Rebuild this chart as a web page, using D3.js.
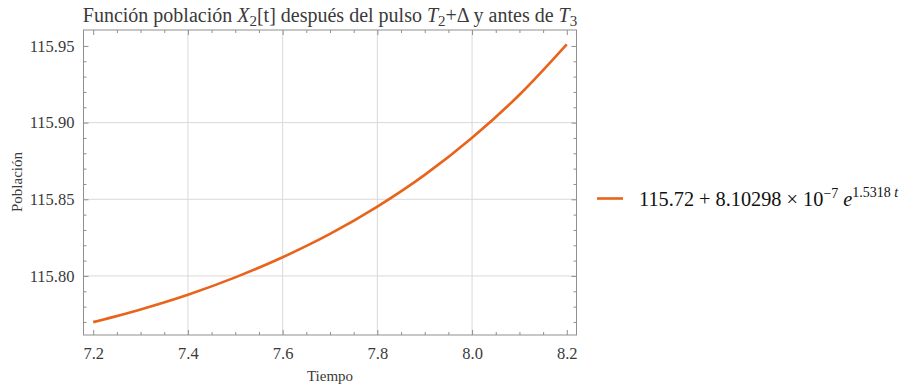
<!DOCTYPE html>
<html><head><meta charset="utf-8">
<script src="https://cdn.jsdelivr.net/npm/d3@7"></script>
<style>
body{margin:0;background:#fff;}
svg{display:block;font-family:"Liberation Serif","Times New Roman",serif;}
</style></head>
<body>
<svg id="chart" width="902" height="386"></svg>
<script>
// Data
const tiempo = [7.2, 7.3, 7.4, 7.5, 7.6, 7.7, 7.8, 7.9, 8.0, 8.1, 8.2];
const poblacion = [115.7699, 115.7782, 115.7878, 115.7991, 115.8122, 115.8274, 115.8452, 115.8659, 115.8901, 115.9182, 115.9511];
const xMajorTicks = [7.2, 7.4, 7.6, 7.8, 8.0, 8.2];
const xMinorTicks = [7.25, 7.3, 7.35, 7.45, 7.5, 7.55, 7.65, 7.7, 7.75, 7.85, 7.9, 7.95, 8.05, 8.1, 8.15];
const yMajorTicks = [115.80, 115.85, 115.90, 115.95];
const yMinorTicks = [115.77, 115.78, 115.79, 115.81, 115.82, 115.83, 115.84, 115.86, 115.87, 115.88, 115.89, 115.91, 115.92, 115.93, 115.94];
const xGrid = [7.4, 7.6, 7.8, 8.0];
const yGrid = [115.80, 115.85, 115.90];

const svg = d3.select("#chart");
const L = 83.5, R = 576.5, T = 30, B = 335;
const x = d3.scaleLinear().domain([7.1795, 8.2205]).range([L, R]);
const y = d3.scaleLinear().domain([115.7615, 115.9604]).range([B, T]);
const frameColor = "#8f8f8f", textColor = "#3a3a3a";
const serif = "Liberation Serif, serif";

// grid
svg.append("g").selectAll("line").data(xGrid).join("line")
  .attr("x1", d => x(d)).attr("x2", d => x(d)).attr("y1", T).attr("y2", B)
  .attr("stroke", "#d9d9d9").attr("stroke-width", 1);
svg.append("g").selectAll("line").data(yGrid).join("line")
  .attr("y1", d => y(d)).attr("y2", d => y(d)).attr("x1", L).attr("x2", R)
  .attr("stroke", "#d9d9d9").attr("stroke-width", 1);

// axes (ticks inward on all four sides)
function styleAxis(g){
  g.attr("font-family", serif);
  g.select(".domain").remove();
  g.selectAll(".tick line").attr("stroke", frameColor);
  g.selectAll(".tick text").attr("fill", textColor).style("font-family", serif).style("font-size","16.5px");
}
const xb = d3.axisBottom(x).tickValues(xMajorTicks).tickSize(-5).tickPadding(12).tickFormat(d3.format(".1f"));
svg.append("g").attr("transform", `translate(0,${B})`).call(xb).call(styleAxis);
svg.append("g").attr("transform", `translate(0,${B})`).call(d3.axisBottom(x).tickValues(xMinorTicks).tickSize(-3).tickFormat("")).call(styleAxis);
svg.append("g").attr("transform", `translate(0,${T})`).call(d3.axisTop(x).tickValues(xMajorTicks).tickSize(-5).tickFormat("")).call(styleAxis);
svg.append("g").attr("transform", `translate(0,${T})`).call(d3.axisTop(x).tickValues(xMinorTicks).tickSize(-3).tickFormat("")).call(styleAxis);

const yl = d3.axisLeft(y).tickValues(yMajorTicks).tickSize(-5).tickPadding(9).tickFormat(d3.format(".2f"));
svg.append("g").attr("transform", `translate(${L},0)`).call(yl).call(styleAxis);
svg.append("g").attr("transform", `translate(${L},0)`).call(d3.axisLeft(y).tickValues(yMinorTicks).tickSize(-3).tickFormat("")).call(styleAxis);
svg.append("g").attr("transform", `translate(${R},0)`).call(d3.axisRight(y).tickValues(yMajorTicks).tickSize(-5).tickFormat("")).call(styleAxis);
svg.append("g").attr("transform", `translate(${R},0)`).call(d3.axisRight(y).tickValues(yMinorTicks).tickSize(-3).tickFormat("")).call(styleAxis);

// frame
svg.append("rect").attr("x", L).attr("y", T).attr("width", R - L).attr("height", B - T)
  .attr("fill", "none").attr("stroke", frameColor).attr("stroke-width", 1);

// curve
const pts = tiempo.map((t, i) => [t, poblacion[i]]);
svg.append("path").datum(pts)
  .attr("d", d3.line().x(d => x(d[0])).y(d => y(d[1])).curve(d3.curveMonotoneX))
  .attr("fill", "none").attr("stroke", "#E8641B").attr("stroke-width", 2.6);

// title
const title = svg.append("text").attr("x", 330).attr("y", 22).attr("text-anchor", "middle")
  .attr("fill", textColor).style("font-size", "20px");
title.append("tspan").text("Función población ");
title.append("tspan").attr("font-style", "italic").text("X");
title.append("tspan").attr("dy", 4).style("font-size", "15px").text("2");
title.append("tspan").attr("dy", -4).text("[t] después del pulso ");
title.append("tspan").attr("font-style", "italic").text("T");
title.append("tspan").attr("dy", 4).style("font-size", "15px").text("2");
title.append("tspan").attr("dy", -4).text("+Δ y antes de ");
title.append("tspan").attr("font-style", "italic").text("T");
title.append("tspan").attr("dy", 4).style("font-size", "15px").text("3");

// axis labels
svg.append("text").attr("x", 330).attr("y", 381).attr("text-anchor", "middle")
  .attr("fill", textColor).style("font-size", "15px").text("Tiempo");
svg.append("text").attr("transform", "translate(22,182) rotate(-90)").attr("text-anchor", "middle")
  .attr("fill", textColor).style("font-size", "15px").text("Población");

// legend
svg.append("line").attr("x1", 597).attr("x2", 623).attr("y1", 198.5).attr("y2", 198.5)
  .attr("stroke", "#E8641B").attr("stroke-width", 2.6);
const lg = svg.append("text").attr("x", 639).attr("y", 206).attr("fill", "#111").style("font-size", "20.3px");
lg.append("tspan").text("115.72 + 8.10298 × 10");
lg.append("tspan").attr("dy", -8).style("font-size", "14px").text("−7");
lg.append("tspan").attr("dy", 8).attr("font-style", "italic").text(" e");
lg.append("tspan").attr("dy", -9).style("font-size", "14px").text("1.5318 ");
lg.append("tspan").style("font-size", "14px").attr("font-style", "italic").text("t");
</script>
</body></html>
